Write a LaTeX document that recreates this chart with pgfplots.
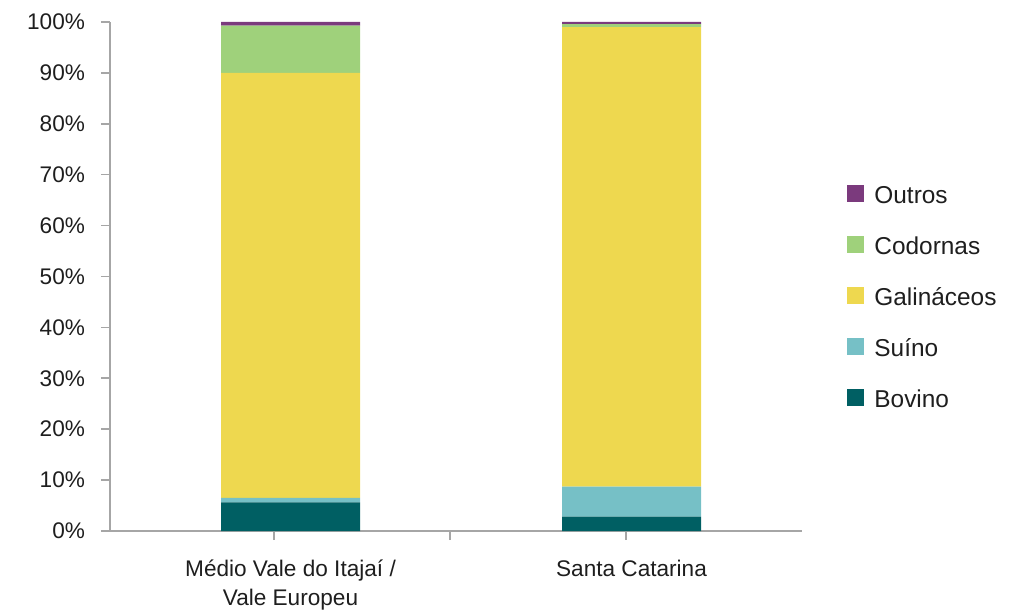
\documentclass[border=0pt]{standalone}
\usepackage{fontspec}
\setmainfont{Liberation Sans}
\usepackage{pgfplots}
\pgfplotsset{compat=1.18}

\definecolor{cOutros}{HTML}{7B3A7D}
\definecolor{cCodornas}{HTML}{9FD17B}
\definecolor{cGalinaceos}{HTML}{EED84F}
\definecolor{cSuino}{HTML}{76C0C6}
\definecolor{cBovino}{HTML}{005F63}
\definecolor{axgray}{HTML}{A6A6A6}
\definecolor{txt}{HTML}{1E1E1E}

\pgfplotsset{
  sq/.style={
    draw=none, fill=#1,
    legend image code/.code={\fill[#1] (0pt,-2.6pt) rectangle (8.5pt,5.9pt);}
  }
}

\begin{document}
\begin{tikzpicture}
\useasboundingbox (-55pt,-39.5pt) rectangle (453pt,265.5pt);
\begin{axis}[
  at={(0pt,0pt)}, anchor=south west,
  scale only axis, width=346pt, height=254.5pt,
  xmin=110, xmax=802, ymin=0, ymax=100,
  ybar stacked, bar width=139,
  axis x line*=bottom, axis y line*=left,
  axis line style={draw=axgray, line width=0.8pt, -},
  tick style={draw=axgray, line width=0.8pt},
  tick align=outside, major tick length=4.5pt,
  xtick={274,450,626}, xticklabels={},
  extra x ticks={290.5,631.5},
  extra x tick labels={{Médio Vale do Itajaí /\\Vale Europeu},{Santa Catarina}},
  extra x tick style={major tick length=0pt,
    xticklabel style={align=center, yshift=-11pt}},
  ytick={0,10,20,30,40,50,60,70,80,90,100},
  yticklabels={0\%,10\%,20\%,30\%,40\%,50\%,60\%,70\%,80\%,90\%,100\%},
  yticklabel style={xshift=-4.5pt},
  tick label style={font=\fontsize{11.3}{14.5}\selectfont, text=txt},
  reverse legend,
  legend style={at={(1.0564,0.4556)}, anchor=west, draw=none, fill=none,
    font=\fontsize{12.2}{14.5}\selectfont, text=txt, row sep=10.5pt,
    nodes={text height=8.5pt, text depth=2.5pt, inner sep=2pt},
    /tikz/every odd column/.append style={column sep=3pt}},
  legend cell align=left,
]
% Bovino, Suíno, Galináceos, Codornas, Outros (per cent of each region)
\addplot[sq=cBovino] coordinates {(290.5,5.6) (631.5,2.8)};
\addplot[sq=cSuino] coordinates {(290.5,0.9) (631.5,5.9)};
\addplot[sq=cGalinaceos] coordinates {(290.5,83.5) (631.5,90.3)};
\addplot[sq=cCodornas] coordinates {(290.5,9.3) (631.5,0.6)};
\addplot[sq=cOutros] coordinates {(290.5,0.7) (631.5,0.4)};
\legend{Bovino,Suíno,Galináceos,Codornas,Outros}
\end{axis}
\end{tikzpicture}
\end{document}
